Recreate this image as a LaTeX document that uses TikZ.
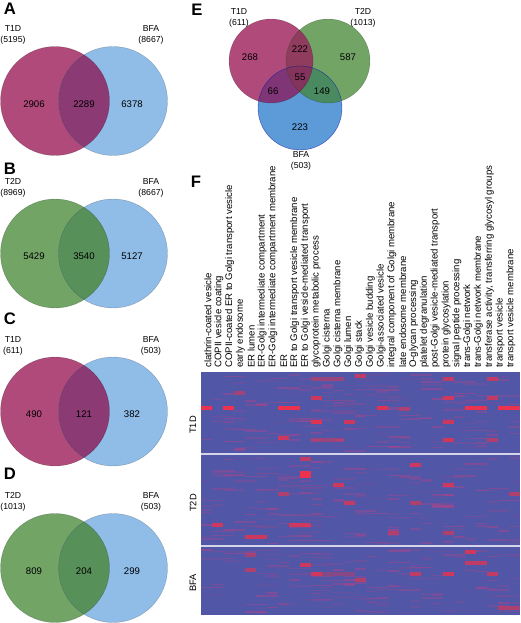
\documentclass[tikz,border=0pt]{standalone}
\usepackage{fontspec}
\setmainfont{Liberation Sans}

\definecolor{T1D}{RGB}{176,74,122}
\definecolor{T2D}{RGB}{114,164,102}
\definecolor{BFA}{RGB}{144,188,232}
\definecolor{T1DBFA}{RGB}{140,58,116}
\definecolor{T2DBFA}{RGB}{88,144,90}
\definecolor{BFAdeep}{RGB}{92,155,215}
\definecolor{T1DT2D}{RGB}{144,60,94}
\definecolor{T1DBFAdeep}{RGB}{128,54,118}
\definecolor{T2DBFAdeep}{RGB}{74,138,96}
\definecolor{triple}{RGB}{132,52,92}
\definecolor{heat}{RGB}{82,86,166}
\definecolor{hot}{RGB}{236,50,76}
\definecolor{warm}{RGB}{205,62,130}

\tikzset{
  setname/.style={inner sep=0pt, align=center, font=\fontsize{6.5}{8.2}\selectfont},
  count/.style={inner sep=0pt, font=\fontsize{7.2}{8}\selectfont},
  panel/.style={inner sep=0pt, font=\fontsize{12.5}{14}\selectfont\bfseries},
  collabel/.style={inner sep=0pt, rotate=90, anchor=west, font=\fontsize{7.2}{8}\selectfont},
  rowlabel/.style={inner sep=0pt, rotate=90, font=\fontsize{7}{8}\selectfont},
  rim/.style={line width=0.3pt, draw=black, opacity=0.25},
  sepline/.style={draw=white!75!heat, line width=1.6pt},
}

% two-set diagram: tag, centre y, set, set total, BFA total, counts
\newcommand\vennpair[8]{%
  \fill[#3] (55,#2) circle[radius=54.5];
  \fill[BFA] (113,#2) circle[radius=54.5];
  \begin{scope}
    \clip (55,#2) circle[radius=54.5];
    \fill[#3BFA] (113,#2) circle[radius=54.5];
  \end{scope}
  \draw[rim] (55,#2) circle[radius=54.5];
  \draw[rim] (113,#2) circle[radius=54.5];
  \node[setname] (#1-set) at (13,#2-66) {#3\\(#4)};
  \node[setname] (#1-bfa) at (151,#2-66) {BFA\\(#5)};
  \node[count] (#1-left) at (34,#2+3) {#6};
  \node[count] (#1-both) at (84,#2+3) {#7};
  \node[count] (#1-right) at (132,#2+3) {#8};
}

% faint random streaks in one block of the heat map
\newcommand\streaks[3]{%
  \foreach \k in {1,...,#3}{%
    \pgfmathsetmacro\cc{int(random(0,28))}%
    \pgfmathsetmacro\ll{int(random(1,2))}%
    \pgfmathsetmacro\yy{#1+2+rnd*(#2-#1-5)}%
    \pgfmathsetmacro\op{0.08+0.3*rnd}%
    \fill[warm, opacity=\op] ({201+\cc*11},\yy) rectangle ++({\ll*11},1.5);
  }}

\begin{document}
\begin{tikzpicture}[x=0.75pt,y=0.75pt,yscale=-1,xscale=1]
\useasboundingbox (0,0) rectangle (520,623);

% panels A-D
\vennpair{A}{101}{T1D}{5195}{8667}{2906}{2289}{6378}
\vennpair{B}{253.5}{T2D}{8969}{8667}{5429}{3540}{5127}
\vennpair{C}{411.5}{T1D}{611}{503}{490}{121}{382}
\vennpair{D}{568}{T2D}{1013}{503}{809}{204}{299}

\foreach \p/\px/\py in {A/10/9, B/10/168.5, C/10/318.5, D/10/473.5, E/197/10, F/196/181.5}
  \node[panel] (lab\p) at (\px,\py) {\p};

% panel E
\fill[T1D] (271,61) circle[radius=42];
\fill[T2D] (328,61) circle[radius=42];
\fill[BFAdeep] (300,108) circle[radius=42];
\begin{scope}
  \clip (271,61) circle[radius=42];
  \fill[T1DT2D] (328,61) circle[radius=42];
  \fill[T1DBFAdeep] (300,108) circle[radius=42];
\end{scope}
\begin{scope}
  \clip (328,61) circle[radius=42];
  \fill[T2DBFAdeep] (300,108) circle[radius=42];
\end{scope}
\begin{scope}
  \clip (271,61) circle[radius=42];
  \clip (328,61) circle[radius=42];
  \fill[triple] (300,108) circle[radius=42];
\end{scope}
\draw[rim] (271,61) circle[radius=42];
\draw[rim] (328,61) circle[radius=42];
\draw[rim, draw=blue!60!black, opacity=0.6] (300,108) circle[radius=42];

\node[setname] (E-t1d) at (239,17.5) {T1D\\(611)};
\node[setname] (E-t2d) at (363,17.5) {T2D\\(1013)};
\node[setname] (E-bfa) at (301,161) {BFA\\(503)};
\node[count] (E-a) at (250,57) {268};
\node[count] (E-ab) at (300,49) {222};
\node[count] (E-b) at (348,57) {587};
\node[count] (E-abc) at (300,77) {55};
\node[count] (E-ac) at (273,91) {66};
\node[count] (E-bc) at (322,91) {149};
\node[count] (E-c) at (300,127) {223};

% panel F: term names
\foreach \lab [count=\i] in {clathrin-coated vesicle, COPII vesicle coating,
    COPII-coated ER to Golgi transport vesicle, early endosome, ER lumen,
    ER-Golgi intermediate compartment, ER-Golgi intermediate compartment membrane,
    ER, ER to Golgi transport vesicle membrane, ER to Golgi vesicle-mediated transport,
    glycoprotein metabolic process, Golgi cisterna, Golgi cisterna membrane,
    Golgi lumen, Golgi stack, Golgi vesicle budding, Golgi-associated vesicle,
    integral component of Golgi membrane, late endosome membrane, O-glycan processing,
    platelet degranulation, post-Golgi vesicle-mediated transport, protein glycosylation,
    signal peptide processing, trans-Golgi network, trans-Golgi network membrane,
    {transferase activity, transferring glycosyl groups}, transport vesicle,
    transport vesicle membrane}
  \node[collabel] (go\i) at ({208+(\i-1)*10.82},368) {\lab};

% heat map
\fill[heat] (201,372) rectangle (520,615);
\begin{scope}
  \clip (201,372) rectangle (520,615);
  \pgfmathsetseed{4211}
  \streaks{372}{454}{170}
  \streaks{455}{546}{170}
  \streaks{547}{615}{140}
  % strong cells: column/row/width/opacity
  \foreach \c/\y/\n/\o in {1/408/1/1, 3/408/1/1, 8/408/2/1, 17/408/1/0.9, 25/408/2/1,
      28/408/2/1, 19/409/1/0.5, 11/379/3/0.45, 15/376/1/0.7, 23/379/1/0.7, 27/379/1/0.7,
      11/398/1/0.8, 23/398/1/0.8, 27/398/1/0.7, 4/393/1/0.5, 11/422/1/0.9, 14/422/1/0.8,
      23/422/1/0.8, 8/438/1/0.8, 11/440/3/0.45, 23/440/1/0.8, 27/440/1/0.6,
      10/459/1/0.7, 10/473/1/1, 10/476/1/1, 13/485/1/0.8, 2/525/1/0.8, 9/525/2/0.8,
      5/537/2/0.8, 8/494/1/0.6, 20/465/1/0.8, 23/485/1/0.8, 14/503/1/0.7, 20/503/1/0.6,
      18/533/1/0.6, 23/533/1/0.6, 29/494/1/0.6,
      10/565/1/0.8, 11/574/1/0.8, 12/574/3/0.35, 5/570/1/0.6, 5/555/1/0.5, 25/552/1/0.8,
      25/563/2/0.7, 20/574/1/0.7, 23/574/1/0.8, 27/574/1/0.7, 15/580/1/0.6, 28/608/2/0.6}
    \fill[hot, opacity=\o] ({201+(\c-1)*11},\y-2) rectangle ++({\n*11},4);
\end{scope}
\draw[sepline] (201,454) -- (520,454);
\draw[sepline] (201,546) -- (520,546);

\node[rowlabel] (row-t1d) at (193,425) {T1D};
\node[rowlabel] (row-t2d) at (193,503) {T2D};
\node[rowlabel] (row-bfa) at (193,583) {BFA};
\end{tikzpicture}
\end{document}
